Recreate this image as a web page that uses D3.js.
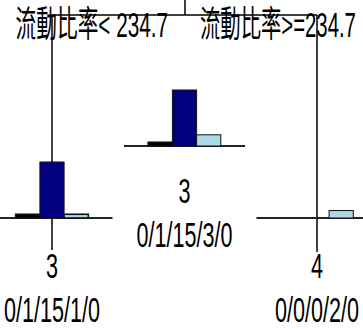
<!DOCTYPE html>
<html>
<head>
<meta charset="utf-8">
<script src="https://cdn.jsdelivr.net/npm/d3@7"></script>
<style>
  body { margin: 0; background: #fff; }
  svg { display: block; }
  text { font-family: "Liberation Sans", "Noto Sans CJK TC", sans-serif; fill: #000; }
</style>
</head>
<body>
<script>
const width = 363;
const height = 329;

// node data
const nodeIds = ["left", "mid", "right"];
const nodeLabels = ["3", "3", "4"];
const nodeCounts = [
  [0, 1, 15, 1, 0],
  [0, 1, 15, 3, 0],
  [0, 0, 0, 2, 0]
];
const classes = ["1", "2", "3", "4", "5"];
const classColors = ["#808080", "#000000", "#000080", "#add8e6", "#ffffff"];
const splitLabels = ["流動比率< 234.7", "流動比率>=234.7"];

// layout
const nodeBase = { left: 218, mid: 146, right: 218 };

const svg = d3.select('body').append('svg')
  .attr('width', width)
  .attr('height', height);

const x = d3.scalePoint()
  .domain(nodeIds)
  .range([52, 317]);

const barW = 121;
const band = d3.scaleBand()
  .domain(classes)
  .range([-barW / 2, barW / 2])
  .padding(0);

const h = d3.scaleLinear()
  .domain([0, 15])
  .range([0, 56]);

// tree lines
const splitY = 15;
svg.append('line')
  .attr('x1', 185).attr('x2', 185)
  .attr('y1', 0).attr('y2', splitY);
svg.append('line')
  .attr('x1', x('left')).attr('x2', x('right'))
  .attr('y1', splitY).attr('y2', splitY);
svg.append('line')
  .attr('x1', x('left')).attr('x2', x('left'))
  .attr('y1', splitY).attr('y2', 250);
svg.append('line')
  .attr('x1', x('right')).attr('x2', x('right'))
  .attr('y1', splitY).attr('y2', 252);
svg.selectAll('line')
  .attr('stroke', '#000')
  .attr('stroke-width', 1.5);

// text drawn narrow, as in the reference
const label = (txt, tx, ty, anchor, sx) => {
  svg.append('text')
    .attr('transform', `translate(${tx},${ty}) scale(${sx},1)`)
    .attr('text-anchor', anchor)
    .attr('font-size', 36)
    .text(txt);
};
label(splitLabels[0], 168, 37, 'end', 0.575);
label(splitLabels[1], 200, 37, 'start', 0.565);

// node histograms
nodeIds.forEach((id, i) => {
  const g = svg.append('g')
    .attr('transform', `translate(${x(id)},${nodeBase[id]})`);

  g.append('line')
    .attr('x1', band.range()[0]).attr('x2', band.range()[1])
    .attr('y1', 0).attr('y2', 0)
    .attr('stroke', '#222')
    .attr('stroke-width', 2);

  g.selectAll('rect')
    .data(nodeCounts[i].map((c, k) => ({ c, k })).filter(d => d.c > 0))
    .join('rect')
    .attr('x', d => band(classes[d.k]))
    .attr('y', d => -h(d.c))
    .attr('width', band.bandwidth())
    .attr('height', d => h(d.c))
    .attr('fill', d => classColors[d.k])
    .attr('stroke', '#111')
    .attr('stroke-width', d => d.c === 1 ? 1.6 : 1);

  const base = nodeBase[id];
  const dy = id === 'mid' ? -3 : 0;
  label(nodeLabels[i], x(id), base + 60 + dy, 'middle', 0.6);
  label(nodeCounts[i].join('/'), x(id), base + 104 + dy, 'middle', 0.6);
});
</script>
</body>
</html>
